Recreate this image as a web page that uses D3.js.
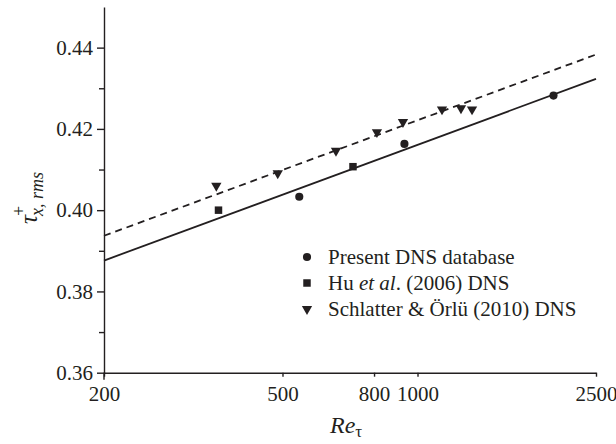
<!DOCTYPE html>
<html>
<head>
<meta charset="utf-8">
<script src="https://cdn.jsdelivr.net/npm/d3@7"></script>
<style>
  html, body { margin: 0; padding: 0; background: #fff; }
  svg text { font-family: "Liberation Serif", "Times New Roman", Times, "DejaVu Serif", serif; fill: #231f20; }
</style>
</head>
<body>
<svg id="chart" width="616" height="444"></svg>
<script>
// ---- Data ----
const presentRe   = [545, 935, 2010];
const presentTau  = [0.4033, 0.4163, 0.4282];
const huRe        = [360, 718];
const huTau       = [0.4000, 0.4107];
const schlatterRe = [356, 488, 658, 812, 928, 1134, 1250, 1323];
const schlatterTau= [0.4060, 0.4091, 0.4146, 0.4192, 0.4217, 0.4248, 0.4251, 0.4248];
const fitRe       = [200, 2500];
const fitSolid    = [0.3876, 0.4323];
const fitDashed   = [0.3937, 0.4383];
const xTicks      = [200, 500, 800, 1000, 2500];
const yTicks      = [0.36, 0.38, 0.40, 0.42, 0.44];
const yMinorTicks = [0.37, 0.39, 0.41, 0.43];
const legendLabels = ["Present DNS database", "Hu et al. (2006) DNS", "Schlatter & Örlü (2010) DNS"];

// ---- Layout ----
const svg = d3.select("#chart");
const ink = "#231f20";
const x = d3.scaleLog().domain([200, 2500]).range([104, 596]);
const y = d3.scaleLinear().domain([0.36, 0.45]).range([372.7, 7]);

// Axes
const xAxis = d3.axisBottom(x).tickValues(xTicks).tickFormat(d3.format("d"))
  .tickSize(4).tickSizeOuter(0).tickPadding(9);
const gx = svg.append("g").attr("transform", `translate(0,${y(0.36)})`).call(xAxis);

const yAxis = d3.axisLeft(y).tickValues(yTicks).tickFormat(d3.format(".2f"))
  .tickSize(7).tickSizeOuter(0).tickPadding(4);
const gy = svg.append("g").attr("transform", `translate(${x(200)},0)`).call(yAxis);

const yMinor = d3.axisLeft(y).tickValues(yMinorTicks).tickFormat("").tickSize(5).tickSizeOuter(0);
const gym = svg.append("g").attr("transform", `translate(${x(200)},0)`).call(yMinor);
gym.select(".domain").remove();

[gx, gy, gym].forEach(g => {
  g.attr("font-family", null);
  g.selectAll("path, line").attr("stroke", ink).attr("stroke-width", 1.4);
  g.selectAll("text").attr("font-size", 21).attr("fill", ink);
});
// y axis line extends slightly below the x axis
svg.append("line").attr("x1", x(200)).attr("x2", x(200))
  .attr("y1", y(0.36)).attr("y2", y(0.36) + 7)
  .attr("stroke", ink).attr("stroke-width", 1.4);

// Fit lines
const line = d3.line().x(d => x(d[0])).y(d => y(d[1]));
svg.append("path").datum(fitRe.map((r, i) => [r, fitSolid[i]]))
  .attr("d", line).attr("fill", "none").attr("stroke", ink).attr("stroke-width", 1.8);
svg.append("path").datum(fitRe.map((r, i) => [r, fitDashed[i]]))
  .attr("d", line).attr("fill", "none").attr("stroke", ink).attr("stroke-width", 1.8)
  .attr("stroke-dasharray", "7,5");

// Markers
const symCircle = d3.symbol().type(d3.symbolCircle).size(52);
const symSquare = d3.symbol().type(d3.symbolSquare).size(56);
const symTri = d3.symbol().type(d3.symbolTriangle).size(46);

function drawPts(xs, ys, sym, rot) {
  svg.append("g").selectAll("path").data(xs.map((r, i) => [r, ys[i]])).join("path")
    .attr("d", sym)
    .attr("transform", d => `translate(${x(d[0])},${y(d[1])}) rotate(${rot})`)
    .attr("fill", ink);
}
drawPts(presentRe, presentTau, symCircle, 0);
drawPts(huRe, huTau, symSquare, 0);
drawPts(schlatterRe, schlatterTau, symTri, 180);

// Legend
const lg = svg.append("g");
const legendY = [257, 283, 309];
const legSyms = [[symCircle, 0], [symSquare, 0], [symTri, 180]];
legendY.forEach((ly, i) => {
  lg.append("path").attr("d", legSyms[i][0])
    .attr("transform", `translate(307,${ly}) rotate(${legSyms[i][1]})`).attr("fill", ink);
});
lg.append("text").attr("x", 328).attr("y", legendY[0] + 7).attr("font-size", 21).text(legendLabels[0]);
const t2 = lg.append("text").attr("x", 328).attr("y", legendY[1] + 7).attr("font-size", 21);
t2.append("tspan").text("Hu ");
t2.append("tspan").attr("font-style", "italic").text("et al");
t2.append("tspan").text(". (2006) DNS");
lg.append("text").attr("x", 328).attr("y", legendY[2] + 7).attr("font-size", 21).text(legendLabels[2]);

// X title
const xt = svg.append("text").attr("x", 330).attr("y", 433).attr("font-size", 24);
xt.append("tspan").attr("font-style", "italic").text("Re");
xt.append("tspan").attr("font-size", 17).attr("dy", 4).text("τ");

// Y title
const yt = svg.append("text").attr("transform", "translate(37,224) rotate(-90)").attr("font-size", 25);
yt.append("tspan").attr("font-style", "italic").text("τ");
yt.append("tspan").attr("font-size", 18).attr("dx", -1).attr("dy", -12).text("+");
yt.append("tspan").attr("font-size", 18).attr("font-style", "italic").attr("dx", -10).attr("dy", 18).text("x, rms");
</script>
</body>
</html>
